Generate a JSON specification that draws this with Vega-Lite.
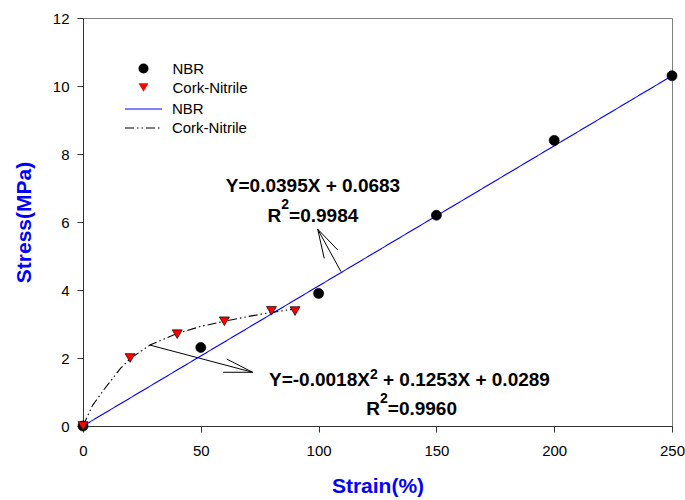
{
  "$schema": "https://vega.github.io/schema/vega-lite/v6.json",
  "autosize": {"type": "none"},
  "padding": {"left": 83, "top": 18, "right": 13, "bottom": 74},
  "width": 589,
  "height": 408,
  "background": "white",
  "config": {
    "font": "Liberation Sans",
    "view": {"stroke": "#808080", "strokeWidth": 1},
    "axis": {
      "grid": false,
      "labelFlush": false,
      "domainColor": "#333333",
      "tickColor": "#333333",
      "tickSize": 6,
      "labelFont": "Liberation Sans",
      "labelFontSize": 15,
      "labelColor": "#000000",
      "titleFont": "Liberation Sans",
      "titleFontSize": 21,
      "titleFontWeight": "bold",
      "titleColor": "#0000ff"
    },
    "legend": {
      "labelFont": "Liberation Sans",
      "labelFontSize": 15,
      "labelColor": "#000000",
      "padding": 0
    }
  },
  "datasets": {
    "pts": [
      {"strain": 0, "stress": 0, "series": "NBR"},
      {"strain": 50, "stress": 2.31, "series": "NBR"},
      {"strain": 100, "stress": 3.9, "series": "NBR"},
      {"strain": 150, "stress": 6.2, "series": "NBR"},
      {"strain": 200, "stress": 8.4, "series": "NBR"},
      {"strain": 250, "stress": 10.3, "series": "NBR"},
      {"strain": 0, "stress": 0, "series": "Cork-Nitrile"},
      {"strain": 20, "stress": 2.0, "series": "Cork-Nitrile"},
      {"strain": 40, "stress": 2.7, "series": "Cork-Nitrile"},
      {"strain": 60, "stress": 3.08, "series": "Cork-Nitrile"},
      {"strain": 80, "stress": 3.39, "series": "Cork-Nitrile"},
      {"strain": 90, "stress": 3.38, "series": "Cork-Nitrile"}
    ],
    "fits": [
      {"strain": 0, "stress": 0, "fit": "NBR fit"},
      {"strain": 250, "stress": 10.3, "fit": "NBR fit"},
      {"strain": 0, "stress": 0, "fit": "Cork-Nitrile fit"},
      {"strain": 4, "stress": 0.6, "fit": "Cork-Nitrile fit"},
      {"strain": 9, "stress": 1.08, "fit": "Cork-Nitrile fit"},
      {"strain": 16, "stress": 1.7, "fit": "Cork-Nitrile fit"},
      {"strain": 20, "stress": 1.98, "fit": "Cork-Nitrile fit"},
      {"strain": 28.4, "stress": 2.38, "fit": "Cork-Nitrile fit"},
      {"strain": 40, "stress": 2.72, "fit": "Cork-Nitrile fit"},
      {"strain": 50, "stress": 2.93, "fit": "Cork-Nitrile fit"},
      {"strain": 60, "stress": 3.08, "fit": "Cork-Nitrile fit"},
      {"strain": 70, "stress": 3.22, "fit": "Cork-Nitrile fit"},
      {"strain": 80, "stress": 3.34, "fit": "Cork-Nitrile fit"},
      {"strain": 91.4, "stress": 3.46, "fit": "Cork-Nitrile fit"}
    ],
    "arrows": [
      {"x": 109.5, "y": 4.54, "x2": 99.6, "y2": 5.79},
      {"x": 99.6, "y": 5.79, "x2": 102.4, "y2": 4.93},
      {"x": 99.6, "y": 5.79, "x2": 108.1, "y2": 5.18},
      {"x": 28.4, "y": 2.38, "x2": 72.0, "y2": 1.58},
      {"x": 72.0, "y": 1.58, "x2": 61.0, "y2": 1.97},
      {"x": 72.0, "y": 1.58, "x2": 59.5, "y2": 1.58}
    ],
    "eqCenter": [
      {"x": 97.62, "y": 6.882, "text": "Y=0.0395X + 0.0683"}
    ],
    "eqLeft": [
      {"x": 78.35, "y": 6.009, "text": "R"},
      {"x": 87.48, "y": 6.009, "text": "=0.9984"},
      {"x": 78.95, "y": 1.176, "text": "Y=-0.0018X"},
      {"x": 127.33, "y": 1.176, "text": "+ 0.1253X + 0.0289"},
      {"x": 120.25, "y": 0.324, "text": "R"},
      {"x": 129.37, "y": 0.324, "text": "=0.9960"}
    ],
    "sup": [
      {"x": 84.17, "y": 6.374, "text": "2"},
      {"x": 121.77, "y": 1.374, "text": "2"},
      {"x": 126.06, "y": 0.685, "text": "2"}
    ]
  },
  "layer": [
    {
      "data": {"name": "fits"},
      "mark": {"type": "line", "strokeWidth": 1.1, "clip": false},
      "encoding": {
        "x": {
          "field": "strain", "type": "quantitative",
          "scale": {"domain": [0, 250], "nice": false, "zero": false},
          "axis": {"values": [0, 50, 100, 150, 200, 250], "title": "Strain(%)", "labelPadding": 11, "titleBaseline": "alphabetic", "titleY": 66}
        },
        "y": {
          "field": "stress", "type": "quantitative",
          "scale": {"domain": [0, 12], "nice": false},
          "axis": {"values": [0, 2, 4, 6, 8, 10, 12], "title": "Stress(MPa)", "labelPadding": 8, "titleBaseline": "alphabetic", "titleX": -53}
        },
        "color": {
          "field": "fit", "type": "nominal",
          "scale": {"domain": ["NBR fit", "Cork-Nitrile fit"], "range": ["#0000ff", "#000000"]},
          "legend": {"title": null, "orient": "none", "legendX": 50.5, "legendY": 81, "symbolSize": 342, "symbolStrokeWidth": 1.1, "labelOffset": 18.4, "rowPadding": 1, "symbolType": "M-2,0L2,0", "labelExpr": "replace(datum.label, ' fit', '')"}
        },
        "strokeDash": {
          "field": "fit", "type": "nominal",
          "scale": {"domain": ["NBR fit", "Cork-Nitrile fit"], "range": [[1, 0], [9, 3, 1.5, 3, 1.5, 3]]},
          "legend": {"title": null, "orient": "none", "legendX": 50.5, "legendY": 81, "symbolSize": 342, "symbolStrokeWidth": 1.1, "labelOffset": 18.4, "rowPadding": 1, "symbolType": "M-2,0L2,0", "labelExpr": "replace(datum.label, ' fit', '')"}
        }
      }
    },
    {
      "data": {"name": "arrows"},
      "mark": {"type": "rule", "color": "#000000", "strokeWidth": 1},
      "encoding": {
        "x": {"field": "x", "type": "quantitative"},
        "y": {"field": "y", "type": "quantitative"},
        "x2": {"field": "x2"},
        "y2": {"field": "y2"}
      }
    },
    {
      "data": {"name": "pts"},
      "mark": {"type": "point", "filled": false, "opacity": 1, "stroke": "#000000", "strokeWidth": 0.7, "clip": false, "size": 100},
      "encoding": {
        "x": {"field": "strain", "type": "quantitative"},
        "y": {"field": "stress", "type": "quantitative"},
        "shape": {
          "field": "series", "type": "nominal",
          "scale": {"domain": ["NBR", "Cork-Nitrile"], "range": ["circle", "triangle-down"]},
          "legend": {"title": null, "orient": "none", "legendX": 53, "legendY": 43, "symbolSize": 100, "symbolStrokeColor": "#000000", "symbolStrokeWidth": 0.7, "labelOffset": 21.5, "rowPadding": 3}
        },
        "fill": {
          "field": "series", "type": "nominal",
          "scale": {"domain": ["NBR", "Cork-Nitrile"], "range": ["#000000", "#ff0000"]},
          "legend": {"title": null, "orient": "none", "legendX": 53, "legendY": 43, "symbolSize": 100, "symbolStrokeColor": "#000000", "symbolStrokeWidth": 0.7, "labelOffset": 21.5, "rowPadding": 3}
        }
      }
    },
    {
      "data": {"name": "eqCenter"},
      "mark": {"type": "text", "font": "Liberation Sans", "fontWeight": "bold", "fontSize": 19, "align": "center", "baseline": "alphabetic", "color": "#000000"},
      "encoding": {
        "x": {"field": "x", "type": "quantitative"},
        "y": {"field": "y", "type": "quantitative"},
        "text": {"field": "text"}
      }
    },
    {
      "data": {"name": "eqLeft"},
      "mark": {"type": "text", "font": "Liberation Sans", "fontWeight": "bold", "fontSize": 19, "align": "left", "baseline": "alphabetic", "color": "#000000"},
      "encoding": {
        "x": {"field": "x", "type": "quantitative"},
        "y": {"field": "y", "type": "quantitative"},
        "text": {"field": "text"}
      }
    },
    {
      "data": {"name": "sup"},
      "mark": {"type": "text", "font": "Liberation Sans", "fontWeight": "bold", "fontSize": 14, "align": "left", "baseline": "alphabetic", "color": "#000000"},
      "encoding": {
        "x": {"field": "x", "type": "quantitative"},
        "y": {"field": "y", "type": "quantitative"},
        "text": {"field": "text"}
      }
    }
  ]
}
